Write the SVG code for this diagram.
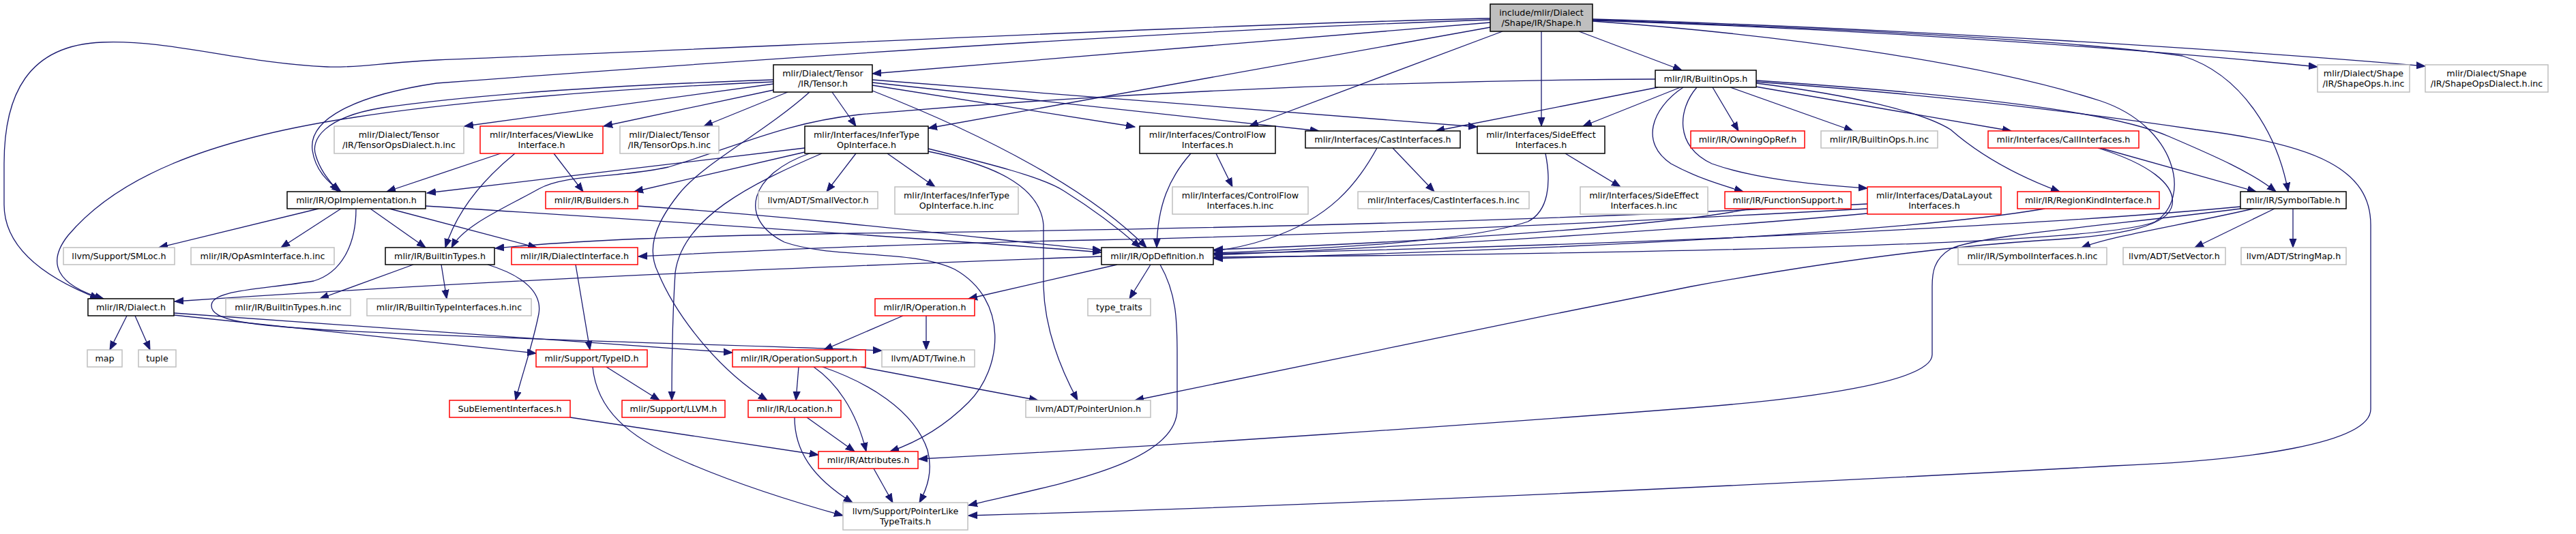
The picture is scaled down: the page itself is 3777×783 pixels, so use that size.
<svg xmlns="http://www.w3.org/2000/svg" width="3777" height="783" viewBox="0 0 3777 783">
<style>
.n rect{fill:#fff;stroke:#000;stroke-width:1.5}
.g rect{stroke:#bfbfbf}
.r rect{stroke:#ff0000}
.root rect{fill:#bfbfbf}
text{font-family:"DejaVu Sans","Liberation Sans",sans-serif;font-size:12.7px;text-anchor:middle;fill:#000}
.e path{fill:none;stroke:#191970;stroke-width:1.3;marker-end:url(#ah)}
</style>
<defs>
<marker id="ah" markerWidth="14" markerHeight="12" refX="13" refY="6" orient="auto" markerUnits="userSpaceOnUse">
<path d="M0,1 L13,6 L0,11 z" fill="#191970" stroke="#191970" stroke-width="1"/>
</marker>
</defs>
<rect x="0" y="0" width="3777" height="783" fill="#fff"/>
<g class="e" id="edges">
<path d="M2185,33 L1279,108"/>
<path d="M2315,46 L2466,103"/>
<path d="M2185,27 C1800,35 1100,70 640,88 C560,92 520,100 480,98 C350,92 250,58 150,62 C40,66 6,140 6,240 L6,300 C6,360 60,405 145,438"/>
<path d="M2185,29 C1700,45 1000,95 640,122 C520,140 452,175 458,220 C462,250 482,268 500,281"/>
<path d="M2335,31 C2600,50 2900,90 3080,148 C3190,185 3215,290 3160,325 C3080,360 2400,372 1780,377"/>
<path d="M2335,29 C2700,42 3050,60 3200,82 C3290,110 3340,200 3355,281"/>
<path d="M2203,46 L1832,185"/>
<path d="M2185,40 L1361,188"/>
<path d="M2260,46 L2260,185"/>
<path d="M2335,28 C2800,42 3300,75 3556,97"/>
<path d="M2335,30 C2800,45 3200,78 3398,98"/>
<path d="M1134,123 L681,185"/>
<path d="M1134,132 L885,185"/>
<path d="M1155,135 L1032,185"/>
<path d="M1220,135 L1255,185"/>
<path d="M1134,117 C900,125 700,138 560,158 C475,172 455,205 463,228 C470,252 485,267 496,281"/>
<path d="M1134,120 C900,130 660,150 520,172 C300,205 170,262 100,345 C68,385 82,418 152,438"/>
<path d="M1279,133 C1450,200 1600,280 1681,363"/>
<path d="M1279,125 L1664,186"/>
<path d="M1279,121 L1934,192"/>
<path d="M1279,117 L2166,186"/>
<path d="M1187,135 C1120,195 1030,240 995,285 C955,335 950,370 965,400 C990,460 1050,540 1125,587"/>
<path d="M2511,128 L2549,192"/>
<path d="M2537,128 L2717,192"/>
<path d="M2574,127 L2949,192"/>
<path d="M2575,122 C2720,140 2820,165 2860,190 C2900,225 2950,255 3020,281"/>
<path d="M2468,128 C2420,160 2405,210 2450,240 C2490,262 2530,273 2556,281"/>
<path d="M2488,128 C2460,160 2455,215 2510,240 C2580,265 2680,272 2738,276"/>
<path d="M2575,118 C2900,140 3100,165 3180,200 C3250,230 3300,252 3337,281"/>
<path d="M2575,120 C2850,140 3050,165 3220,190 C3400,212 3476,250 3476,330 L3476,600 C3476,650 3300,675 3100,683 C2700,705 2000,740 1420,756"/>
<path d="M2431,128 L2105,192"/>
<path d="M2464,128 L2321,185"/>
<path d="M2427,116 C2100,118 1700,130 1260,168 C1150,180 1080,215 980,245 C900,262 830,255 790,277 C740,305 680,330 662,363"/>
<path d="M734,225 L567,281"/>
<path d="M755,225 C700,270 668,315 653,363"/>
<path d="M812,225 L855,281"/>
<path d="M1301,225 L1371,274"/>
<path d="M1255,225 L1212,281"/>
<path d="M1180,223 L930,281"/>
<path d="M1180,217 L626,283"/>
<path d="M1361,218 C1450,240 1530,260 1560,280 C1600,305 1640,335 1672,363"/>
<path d="M1187,225 C1100,255 1080,320 1150,355 C1220,380 1340,365 1400,395 C1480,440 1470,540 1420,590 C1380,630 1340,650 1305,662"/>
<path d="M1205,225 C1100,270 1000,320 990,400 C985,480 985,540 985,587"/>
<path d="M1361,222 C1450,240 1525,270 1530,330 L1530,420 C1532,490 1560,550 1580,587"/>
<path d="M1783,225 L1807,274"/>
<path d="M1746,225 C1715,260 1697,300 1696,363"/>
<path d="M2042,217 L2103,281"/>
<path d="M2019,217 C1990,270 1950,320 1860,350 C1830,360 1805,365 1780,368"/>
<path d="M2295,225 L2376,274"/>
<path d="M2266,225 C2275,270 2270,310 2240,325 C2150,355 1950,364 1780,371"/>
<path d="M2738,313 C2500,335 2100,360 1780,374"/>
<path d="M2738,306 C2300,330 1900,346 1600,352 C1300,358 1100,368 936,376"/>
<path d="M2738,299 C2300,322 1800,336 1260,342 C1000,346 850,352 726,364"/>
<path d="M2566,306 C2450,330 2100,355 1780,366"/>
<path d="M2998,306 C2800,340 2300,366 1780,379"/>
<path d="M3335,306 L3218,363"/>
<path d="M3362,306 L3362,363"/>
<path d="M3304,306 C3200,330 3100,345 3052,363"/>
<path d="M3285,303 C3000,330 2400,360 1780,372"/>
<path d="M3285,306 C3100,330 2900,345 2860,365 C2835,380 2833,400 2833,420 L2833,520 C2833,560 2650,585 2480,598 C2200,620 1700,655 1347,673"/>
<path d="M3080,217 L3308,281"/>
<path d="M3076,217 C3150,240 3190,270 3185,300 C3180,330 3120,345 3000,352 C2800,365 2600,398 2480,420 C2200,475 1900,540 1664,587"/>
<path d="M467,306 L233,363"/>
<path d="M500,306 L412,363"/>
<path d="M543,306 L624,363"/>
<path d="M571,306 L787,363"/>
<path d="M624,302 C900,320 1300,345 1615,370"/>
<path d="M522,306 C522,360 500,400 460,412 C380,425 310,425 310,448 C310,470 360,477 500,485 C800,500 1100,506 1293,514"/>
<path d="M935,302 C1200,320 1400,345 1615,367"/>
<path d="M606,388 L469,438"/>
<path d="M647,388 L655,438"/>
<path d="M715,388 C770,405 795,430 790,460 C780,510 765,550 756,587"/>
<path d="M844,388 L865,513"/>
<path d="M1615,376 C1300,388 800,405 256,442"/>
<path d="M1638,388 L1420,438"/>
<path d="M1687,388 L1656,438"/>
<path d="M1701,388 C1725,430 1726,470 1726,520 L1726,600 C1726,680 1550,710 1420,741"/>
<path d="M186,463 L161,513"/>
<path d="M198,463 L220,513"/>
<path d="M255,462 L786,518"/>
<path d="M255,459 L1074,517"/>
<path d="M1324,463 L1208,513"/>
<path d="M1358,463 L1358,513"/>
<path d="M1171,538 L1167,587"/>
<path d="M1193,538 C1225,560 1255,600 1270,662"/>
<path d="M1206,538 C1270,560 1340,600 1360,660 C1368,690 1360,715 1348,737"/>
<path d="M1262,538 L1522,587"/>
<path d="M889,538 L967,587"/>
<path d="M869,538 C875,600 920,640 1000,675 C1080,710 1160,735 1236,756"/>
<path d="M836,612 L1200,667"/>
<path d="M1183,612 L1253,662"/>
<path d="M1165,612 C1165,660 1190,700 1250,737"/>
<path d="M1281,687 L1309,737"/>
</g>
<g class="n root" id="n0"><rect x="2185" y="6" width="150" height="40"/><text x="2260" y="22.5">include/mlir/Dialect</text><text x="2260" y="37.5">/Shape/IR/Shape.h</text></g>
<g class="n" id="n1"><rect x="1134" y="95" width="145" height="40"/><text x="1206.5" y="111.5">mlir/Dialect/Tensor</text><text x="1206.5" y="126.5">/IR/Tensor.h</text></g>
<g class="n" id="n2"><rect x="2427" y="103" width="148" height="25"/><text x="2501" y="120">mlir/IR/BuiltinOps.h</text></g>
<g class="n g" id="n3"><rect x="3398" y="95" width="135" height="40"/><text x="3465.5" y="111.5">mlir/Dialect/Shape</text><text x="3465.5" y="126.5">/IR/ShapeOps.h.inc</text></g>
<g class="n g" id="n4"><rect x="3556" y="95" width="180" height="40"/><text x="3646" y="111.5">mlir/Dialect/Shape</text><text x="3646" y="126.5">/IR/ShapeOpsDialect.h.inc</text></g>
<g class="n g" id="n5"><rect x="490" y="185" width="190" height="40"/><text x="585" y="201.5">mlir/Dialect/Tensor</text><text x="585" y="216.5">/IR/TensorOpsDialect.h.inc</text></g>
<g class="n r" id="n6"><rect x="704" y="185" width="180" height="40"/><text x="794" y="201.5">mlir/Interfaces/ViewLike</text><text x="794" y="216.5">Interface.h</text></g>
<g class="n g" id="n7"><rect x="909" y="185" width="145" height="40"/><text x="981.5" y="201.5">mlir/Dialect/Tensor</text><text x="981.5" y="216.5">/IR/TensorOps.h.inc</text></g>
<g class="n" id="n8"><rect x="1180" y="185" width="181" height="40"/><text x="1270.5" y="201.5">mlir/Interfaces/InferType</text><text x="1270.5" y="216.5">OpInterface.h</text></g>
<g class="n" id="n9"><rect x="1671" y="185" width="199" height="40"/><text x="1770.5" y="201.5">mlir/Interfaces/ControlFlow</text><text x="1770.5" y="216.5">Interfaces.h</text></g>
<g class="n" id="n10"><rect x="1914" y="192" width="227" height="25"/><text x="2027.5" y="209">mlir/Interfaces/CastInterfaces.h</text></g>
<g class="n" id="n11"><rect x="2166" y="185" width="187" height="40"/><text x="2259.5" y="201.5">mlir/Interfaces/SideEffect</text><text x="2259.5" y="216.5">Interfaces.h</text></g>
<g class="n r" id="n12"><rect x="2479" y="192" width="167" height="25"/><text x="2562.5" y="209">mlir/IR/OwningOpRef.h</text></g>
<g class="n g" id="n13"><rect x="2670" y="192" width="171" height="25"/><text x="2755.5" y="209">mlir/IR/BuiltinOps.h.inc</text></g>
<g class="n r" id="n14"><rect x="2915" y="192" width="221" height="25"/><text x="3025.5" y="209">mlir/Interfaces/CallInterfaces.h</text></g>
<g class="n" id="n15"><rect x="421" y="281" width="203" height="25"/><text x="522.5" y="298">mlir/IR/OpImplementation.h</text></g>
<g class="n r" id="n16"><rect x="800" y="281" width="135" height="25"/><text x="867.5" y="298">mlir/IR/Builders.h</text></g>
<g class="n g" id="n17"><rect x="1112" y="281" width="175" height="25"/><text x="1199.5" y="298">llvm/ADT/SmallVector.h</text></g>
<g class="n g" id="n18"><rect x="1312" y="274" width="181" height="40"/><text x="1402.5" y="290.5">mlir/Interfaces/InferType</text><text x="1402.5" y="305.5">OpInterface.h.inc</text></g>
<g class="n g" id="n19"><rect x="1719" y="274" width="199" height="40"/><text x="1818.5" y="290.5">mlir/Interfaces/ControlFlow</text><text x="1818.5" y="305.5">Interfaces.h.inc</text></g>
<g class="n g" id="n20"><rect x="1991" y="281" width="251" height="25"/><text x="2116.5" y="298">mlir/Interfaces/CastInterfaces.h.inc</text></g>
<g class="n g" id="n21"><rect x="2317" y="274" width="187" height="40"/><text x="2410.5" y="290.5">mlir/Interfaces/SideEffect</text><text x="2410.5" y="305.5">Interfaces.h.inc</text></g>
<g class="n r" id="n22"><rect x="2529" y="281" width="185" height="25"/><text x="2621.5" y="298">mlir/IR/FunctionSupport.h</text></g>
<g class="n r" id="n23"><rect x="2738" y="274" width="196" height="40"/><text x="2836" y="290.5">mlir/Interfaces/DataLayout</text><text x="2836" y="305.5">Interfaces.h</text></g>
<g class="n r" id="n24"><rect x="2958" y="281" width="208" height="25"/><text x="3062" y="298">mlir/IR/RegionKindInterface.h</text></g>
<g class="n" id="n25"><rect x="3285" y="281" width="155" height="25"/><text x="3362.5" y="298">mlir/IR/SymbolTable.h</text></g>
<g class="n g" id="n26"><rect x="93" y="363" width="163" height="25"/><text x="174.5" y="380">llvm/Support/SMLoc.h</text></g>
<g class="n g" id="n27"><rect x="280" y="363" width="210" height="25"/><text x="385" y="380">mlir/IR/OpAsmInterface.h.inc</text></g>
<g class="n" id="n28"><rect x="565" y="363" width="160" height="25"/><text x="645" y="380">mlir/IR/BuiltinTypes.h</text></g>
<g class="n r" id="n29"><rect x="750" y="363" width="185" height="25"/><text x="842.5" y="380">mlir/IR/DialectInterface.h</text></g>
<g class="n" id="n30"><rect x="1615" y="363" width="164" height="25"/><text x="1697" y="380">mlir/IR/OpDefinition.h</text></g>
<g class="n g" id="n31"><rect x="2871" y="363" width="218" height="25"/><text x="2980" y="380">mlir/IR/SymbolInterfaces.h.inc</text></g>
<g class="n g" id="n32"><rect x="3113" y="363" width="150" height="25"/><text x="3188" y="380">llvm/ADT/SetVector.h</text></g>
<g class="n g" id="n33"><rect x="3286" y="363" width="154" height="25"/><text x="3363" y="380">llvm/ADT/StringMap.h</text></g>
<g class="n" id="n34"><rect x="129" y="438" width="126" height="25"/><text x="192" y="455">mlir/IR/Dialect.h</text></g>
<g class="n g" id="n35"><rect x="331" y="438" width="183" height="25"/><text x="422.5" y="455">mlir/IR/BuiltinTypes.h.inc</text></g>
<g class="n g" id="n36"><rect x="538" y="438" width="241" height="25"/><text x="658.5" y="455">mlir/IR/BuiltinTypeInterfaces.h.inc</text></g>
<g class="n r" id="n37"><rect x="1283" y="438" width="146" height="25"/><text x="1356" y="455">mlir/IR/Operation.h</text></g>
<g class="n g" id="n38"><rect x="1595" y="438" width="92" height="25"/><text x="1641" y="455">type_traits</text></g>
<g class="n g" id="n39"><rect x="128" y="513" width="51" height="25"/><text x="153.5" y="530">map</text></g>
<g class="n g" id="n40"><rect x="203" y="513" width="55" height="25"/><text x="230.5" y="530">tuple</text></g>
<g class="n r" id="n41"><rect x="786" y="513" width="163" height="25"/><text x="867.5" y="530">mlir/Support/TypeID.h</text></g>
<g class="n r" id="n42"><rect x="1074" y="513" width="195" height="25"/><text x="1171.5" y="530">mlir/IR/OperationSupport.h</text></g>
<g class="n g" id="n43"><rect x="1293" y="513" width="136" height="25"/><text x="1361" y="530">llvm/ADT/Twine.h</text></g>
<g class="n r" id="n44"><rect x="659" y="587" width="177" height="25"/><text x="747.5" y="604">SubElementInterfaces.h</text></g>
<g class="n r" id="n45"><rect x="912" y="587" width="151" height="25"/><text x="987.5" y="604">mlir/Support/LLVM.h</text></g>
<g class="n r" id="n46"><rect x="1097" y="587" width="136" height="25"/><text x="1165" y="604">mlir/IR/Location.h</text></g>
<g class="n g" id="n47"><rect x="1504" y="587" width="183" height="25"/><text x="1595.5" y="604">llvm/ADT/PointerUnion.h</text></g>
<g class="n r" id="n48"><rect x="1200" y="662" width="146" height="25"/><text x="1273" y="679">mlir/IR/Attributes.h</text></g>
<g class="n g" id="n49"><rect x="1236" y="737" width="183" height="40"/><text x="1327.5" y="753.5">llvm/Support/PointerLike</text><text x="1327.5" y="768.5">TypeTraits.h</text></g>
</svg>
